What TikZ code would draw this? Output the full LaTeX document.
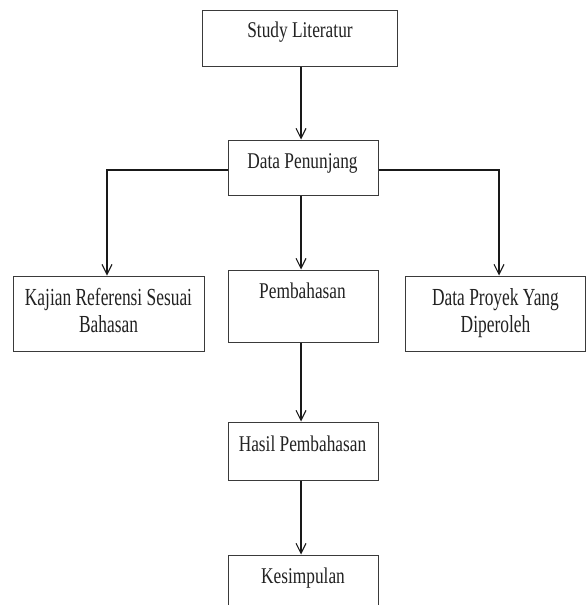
\documentclass[tikz,border=0pt]{standalone}
\usepackage{fontspec}
\setmainfont[FakeStretch=0.77]{Liberation Serif}
\newfontfamily\sidefont[FakeStretch=0.71]{Liberation Serif}
\usetikzlibrary{arrows.meta}
\definecolor{ink}{HTML}{222222}
\definecolor{edge}{HTML}{3A3A3A}
\tikzset{
  box/.style={draw=edge, line width=1pt, inner sep=0pt, fill=white},
  maintxt/.style={text=ink, inner sep=0pt, anchor=base, font=\fontsize{22.5}{27}\selectfont},
  sidetxt/.style={text=ink, inner sep=0pt, anchor=base, font=\sidefont\fontsize{24.5}{27}\selectfont},
  arr/.style={draw=black!90, line width=1.1pt, -{Straight Barb[length=10pt,width=10pt,line width=1.1pt]}},
  plain/.style={draw=black!90, line width=1.1pt}
}
\begin{document}
\begin{tikzpicture}[x=1pt,y=-1pt]
\clip (0,0) rectangle (586,605);
\fill[white] (0,0) rectangle (586,605);
% boxes
\node[box, minimum width=195, minimum height=56] (study) at (299.5,38) {};
\node[box, minimum width=150, minimum height=55] (dp) at (303,167.5) {};
\node[box, minimum width=191, minimum height=75] (kaj) at (108.5,313.5) {};
\node[box, minimum width=150, minimum height=72] (pem) at (303,306) {};
\node[box, minimum width=180, minimum height=75] (pro) at (495.5,313.5) {};
\node[box, minimum width=150, minimum height=58] (has) at (303,451) {};
\node[box, minimum width=150, minimum height=80] (kes) at (303.5,595) {};
% texts
\node[maintxt] (tstudy) at (300,37) {Study Literatur};
\node[maintxt] (tdp) at (302.5,168) {Data Penunjang};
\node[sidetxt] (tkaj1) at (108.5,305) {Kajian Referensi Sesuai};
\node[sidetxt] (tkaj2) at (108.5,332) {Bahasan};
\node[maintxt] (tpem) at (302.5,298) {Pembahasan};
\node[sidetxt] (tpro1) at (495.5,305) {Data Proyek Yang};
\node[sidetxt] (tpro2) at (495.5,332) {Diperoleh};
\node[maintxt] (thas) at (302.5,451) {Hasil Pembahasan};
\node[maintxt] (tkes) at (303,583) {Kesimpulan};
% connectors
\coordinate (dpl) at ([yshift=-2.5pt]dp.west);
\coordinate (dpr) at ([yshift=-2.5pt]dp.east);
\coordinate (kajtop) at ([xshift=-1.5pt]kaj.north);
\coordinate (protop) at ([xshift=3.5pt]pro.north);
\draw[arr] ([xshift=1.5pt]study.south) -- ([xshift=-2pt]dp.north);
\draw[arr] (dpl) -| (kajtop);
\draw[arr] (dpr) -| (protop);
\draw[arr] ([xshift=-2pt]dp.south) -- ([xshift=-2pt]pem.north);
\draw[arr] ([xshift=-2pt]pem.south) -- ([xshift=-2pt]has.north);
\draw[arr] ([xshift=-2pt]has.south) -- ([xshift=-2.5pt]kes.north);
\end{tikzpicture}
\end{document}
